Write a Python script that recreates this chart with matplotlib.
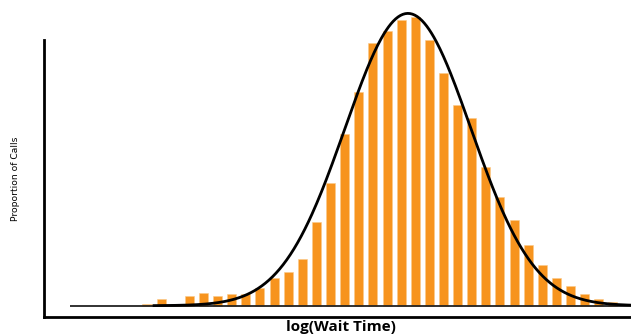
import numpy as np
import matplotlib
matplotlib.use('Agg')
from matplotlib import pyplot as plt

# Proportion of calls in each log(wait time) bin
bins = np.arange(34)
proportions = [0.0005, 0.0019, 0.0005, 0.0028, 0.0040, 0.0031, 0.0036, 0.0036,
               0.0054, 0.0085, 0.0102, 0.0142, 0.0255, 0.0374, 0.0523, 0.0650,
               0.0799, 0.0834, 0.0869, 0.0878, 0.0808, 0.0707, 0.0610, 0.0572,
               0.0422, 0.0331, 0.0261, 0.0186, 0.0125, 0.0085, 0.0059, 0.0036,
               0.0019, 0.0011]

# fitted normal curve (in bin units)
fit_mean = 18.48
fit_sd = 4.46
fit_peak = 0.0889

fig = plt.figure(figsize=(6.31, 3.35), dpi=100, facecolor='white')
ax = fig.add_axes([43.7 / 631, 18.3 / 335, 1 - 43.7 / 631, 1 - 18.3 / 335])

ax.bar(bins, proportions, width=0.64, color='#F7941E', edgecolor='#FBC98A',
       linewidth=0.4, zorder=2)

xs = np.linspace(0.5, 34.3, 400)
ys = fit_peak * np.exp(-0.5 * ((xs - fit_mean) / fit_sd) ** 2)
ax.plot(xs, ys, color='black', linewidth=2.0, zorder=4, clip_on=False)

# baseline the bars stand on
ax.hlines(0, -5.45, 34.3, color='#222222', linewidth=1.3, zorder=3)

ax.set_xlim(-7.316, 34.28)
ax.set_ylim(-11 / 3288, 305.7 / 3288)

for side in ['top', 'right']:
    ax.spines[side].set_visible(False)
ax.spines['left'].set_linewidth(2)
ax.spines['bottom'].set_linewidth(2)
ax.spines['left'].set_bounds(-11 / 3288, (316.7 - 40) / 3288 - 11 / 3288)
ax.set_xticks([])
ax.set_yticks([])

fig.text(16 / 631, 1 - 179 / 335, 'Proportion of Calls', rotation=90,
         ha='center', va='center', fontsize=6.6, family=['DejaVu Sans'])
fig.text(341 / 631, 1 - 330.5 / 335, 'log(Wait Time)', ha='center',
         va='baseline', fontsize=11, fontweight='bold',
         family=['Open Sans', 'DejaVu Sans'])

fig.savefig('out.png', dpi=100, facecolor='white')
